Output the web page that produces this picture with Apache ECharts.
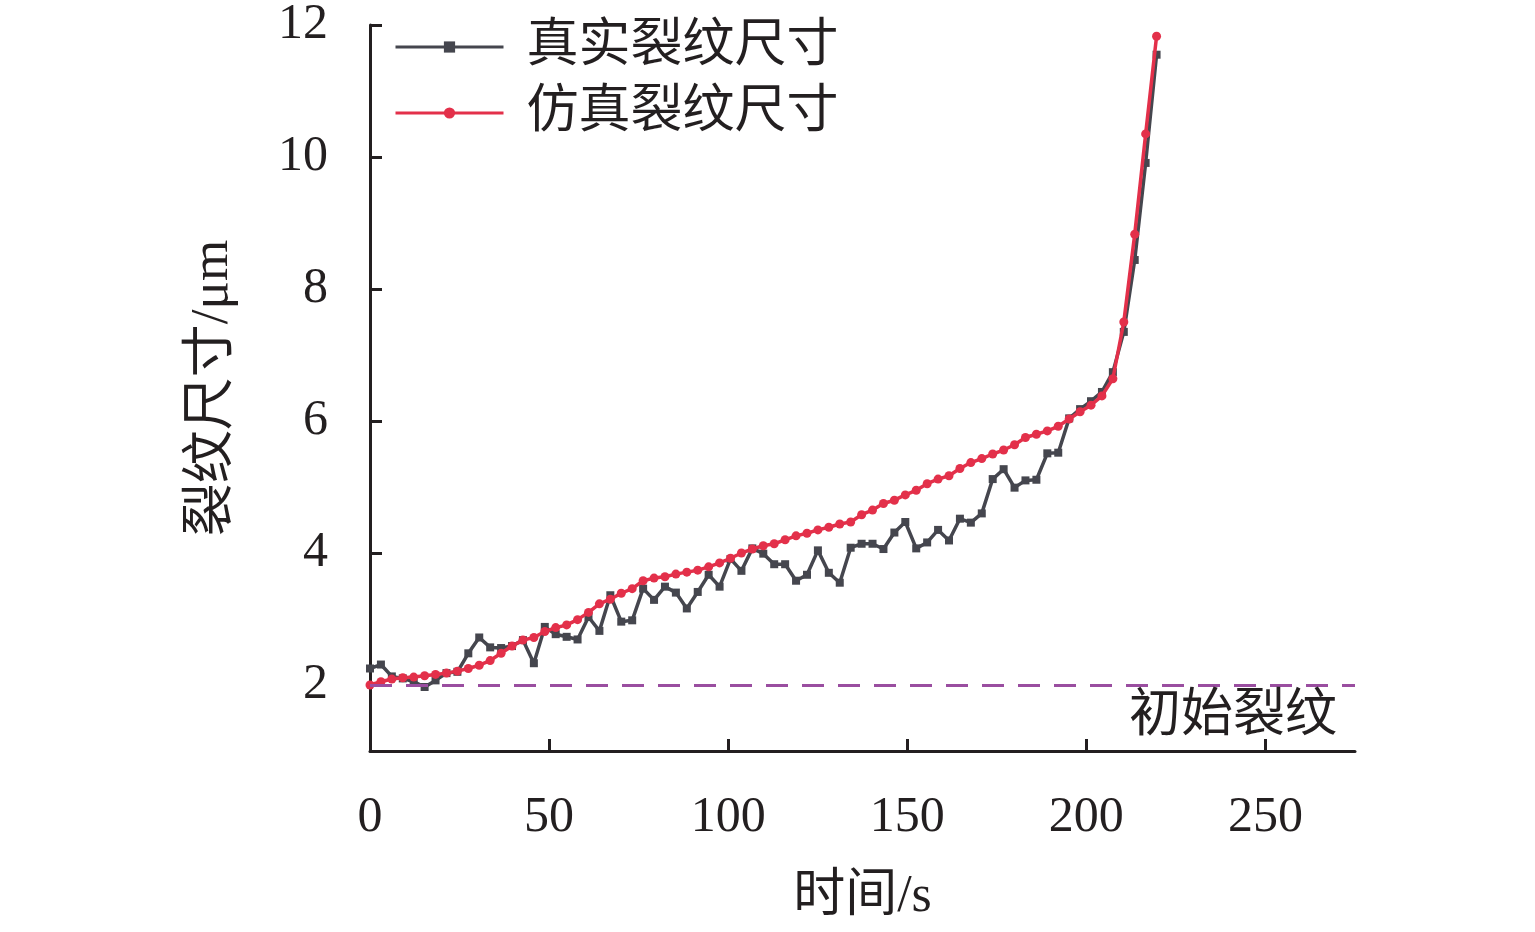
<!DOCTYPE html>
<html>
<head>
<meta charset="utf-8">
<title>裂纹尺寸</title>
<script src="https://cdn.jsdelivr.net/npm/echarts@6/dist/echarts.min.js"></script>
<style>
  html, body { margin: 0; padding: 0; background: #fff; }
  #container { width: 1535px; height: 932px; }
</style>
</head>
<body>
<div id="container"></div>
<script>
const FONT = '"Liberation Serif", "Times New Roman", "Noto Sans CJK SC", serif';
const REAL_COLOR = '#45464e';
const SIM_COLOR = '#e3304a';
const LINE_COLOR = '#9a4ea0';

// time, s
const times = [
    0, 3.05, 6.1, 9.15, 12.2, 15.25, 18.3, 21.35, 24.4, 27.45,
    30.5, 33.55, 36.6, 39.65, 42.7, 45.75, 48.8, 51.85, 54.9, 57.95,
    61, 64.05, 67.1, 70.15, 73.2, 76.25, 79.3, 82.35, 85.4, 88.45,
    91.5, 94.55, 97.6, 100.65, 103.7, 106.75, 109.8, 112.85, 115.9, 118.95,
    122, 125.05, 128.1, 131.15, 134.2, 137.25, 140.3, 143.35, 146.4, 149.45,
    152.5, 155.55, 158.6, 161.65, 164.7, 167.75, 170.8, 173.85, 176.9, 179.95,
    183, 186.05, 189.1, 192.15, 195.2, 198.25, 201.3, 204.35, 207.4, 210.45,
    213.5, 216.55, 219.6
];
// 真实裂纹尺寸, μm
const realSize = [
    2.25, 2.31, 2.13, 2.10, 2.05, 1.97, 2.07, 2.18, 2.20, 2.48,
    2.72, 2.57, 2.56, 2.59, 2.68, 2.33, 2.88, 2.77, 2.73, 2.69,
    3.03, 2.82, 3.36, 2.96, 2.98, 3.46, 3.29, 3.49, 3.40, 3.16,
    3.41, 3.67, 3.49, 3.91, 3.73, 4.07, 3.99, 3.83, 3.83, 3.58,
    3.67, 4.04, 3.70, 3.55, 4.08, 4.14, 4.14, 4.06, 4.31, 4.47,
    4.07, 4.16, 4.35, 4.19, 4.52, 4.46, 4.60, 5.12, 5.27, 4.99,
    5.10, 5.11, 5.51, 5.52, 6.04, 6.18, 6.30, 6.44, 6.74, 7.35,
    8.44, 9.91, 11.55
];
// 仿真裂纹尺寸, μm
const simSize = [
    2.00, 2.05, 2.09, 2.11, 2.12, 2.14, 2.16, 2.18, 2.21, 2.25,
    2.30, 2.37, 2.48, 2.59, 2.68, 2.72, 2.81, 2.87, 2.91, 2.99,
    3.10, 3.23, 3.30, 3.39, 3.46, 3.58, 3.62, 3.64, 3.68, 3.71,
    3.74, 3.79, 3.85, 3.92, 4.00, 4.06, 4.11, 4.14, 4.20, 4.26,
    4.30, 4.35, 4.39, 4.44, 4.47, 4.58, 4.65, 4.75, 4.80, 4.88,
    4.95, 5.05, 5.12, 5.17, 5.28, 5.37, 5.43, 5.50, 5.56, 5.64,
    5.75, 5.80, 5.85, 5.92, 6.03, 6.14, 6.24, 6.38, 6.64, 7.50,
    8.83, 10.35, 11.83
];
const initialCrack = 2;
const xTicks = [0, 50, 100, 150, 200, 250];
const yTicks = [2, 4, 6, 8, 10, 12];

function pairs(values) {
    return values.map(function (v, i) { return [times[i], v]; });
}

let dom = document.getElementById('container');
let myChart = echarts.init(dom);
let option = {
    backgroundColor: '#ffffff',
    animation: false,
    textStyle: { fontFamily: FONT },
    grid: {
        left: 370,
        right: 180,
        top: 25,
        bottom: 181,
        containLabel: false
    },
    legend: {
        orient: 'vertical',
        left: 389,
        top: 16,
        itemWidth: 108,
        itemHeight: 14,
        itemGap: 14,
        align: 'left',
        lineStyle: { width: 3 },
        textStyle: {
            fontFamily: FONT,
            fontSize: 52,
            color: '#231f20',
            lineHeight: 52,
            padding: [0, 0, 0, 18]
        },
        data: ['真实裂纹尺寸', '仿真裂纹尺寸']
    },
    xAxis: {
        type: 'value',
        min: 0,
        max: 275,
        name: '时间/s',
        nameLocation: 'middle',
        nameGap: 120,
        nameTextStyle: { fontFamily: FONT, fontSize: 52, color: '#231f20' },
        axisLine: { lineStyle: { color: '#231f20', width: 3 } },
        axisTick: {
            inside: true,
            length: 12,
            customValues: xTicks,
            lineStyle: { color: '#231f20', width: 3 }
        },
        axisLabel: {
            customValues: xTicks,
            margin: 42,
            fontFamily: FONT,
            fontSize: 50,
            color: '#231f20'
        },
        splitLine: { show: false }
    },
    yAxis: {
        type: 'value',
        min: 1,
        max: 12,
        name: '裂纹尺寸/μm',
        nameLocation: 'middle',
        nameGap: 130,
        nameTextStyle: { fontFamily: FONT, fontSize: 53, color: '#231f20' },
        axisLine: { show: true, lineStyle: { color: '#231f20', width: 3 } },
        axisTick: {
            show: true,
            inside: true,
            length: 12,
            customValues: yTicks,
            lineStyle: { color: '#231f20', width: 3 }
        },
        axisLabel: {
            customValues: yTicks,
            margin: 42,
            fontFamily: FONT,
            fontSize: 50,
            color: '#231f20'
        },
        splitLine: { show: false }
    },
    series: [{
        name: '真实裂纹尺寸',
        type: 'line',
        data: pairs(realSize),
        symbol: 'rect',
        symbolSize: 8,
        lineStyle: { color: REAL_COLOR, width: 3.5 },
        itemStyle: { color: REAL_COLOR },
        z: 2
    }, {
        name: '仿真裂纹尺寸',
        type: 'line',
        data: pairs(simSize),
        symbol: 'circle',
        symbolSize: 9,
        lineStyle: { color: SIM_COLOR, width: 3.5 },
        itemStyle: { color: SIM_COLOR },
        z: 3,
        markLine: {
            silent: true,
            symbol: 'none',
            lineStyle: { color: LINE_COLOR, type: [22, 14], width: 3 },
            label: {
                show: true,
                position: 'insideEndBottom',
                formatter: '初始裂纹',
                fontFamily: FONT,
                fontSize: 52,
                color: '#231f20',
                distance: [18, 6]
            },
            data: [{ yAxis: initialCrack }]
        }
    }]
};
myChart.setOption(option, true);
window.addEventListener('resize', function () {
    myChart.resize();
});
</script>
</body>
</html>
